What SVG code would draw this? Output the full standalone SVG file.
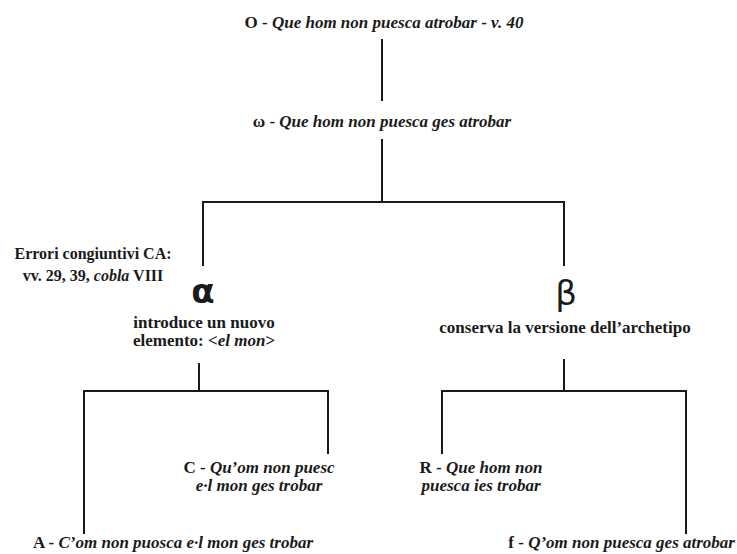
<svg xmlns="http://www.w3.org/2000/svg" width="737" height="554" viewBox="0 0 737 554">
<style>
.t{font-family:"Liberation Serif","Times New Roman",serif;font-size:17px;font-weight:bold;fill:#1a1a1a;text-anchor:middle}
.i{font-style:italic}
.s{font-size:16px}
.g{font-family:"DejaVu Sans",sans-serif;font-size:34px;fill:#1a1a1a;text-anchor:middle}
.e line{stroke:#1a1a1a;stroke-width:2;stroke-linecap:square}
</style>
<defs><clipPath id="cut"><rect x="0" y="240" width="200" height="44"/></clipPath></defs>
<rect width="737" height="554" fill="#fff"/>
<g class="e" id="connectors">
<line x1="382" y1="40" x2="382" y2="100"/>
<line x1="382" y1="140" x2="382" y2="202"/>
<line x1="203" y1="202" x2="564" y2="202"/>
<line x1="203" y1="202" x2="203" y2="265"/>
<line x1="564" y1="202" x2="564" y2="265"/>
<line x1="199" y1="364" x2="199" y2="391"/>
<line x1="84" y1="391" x2="328" y2="391"/>
<line x1="84" y1="391" x2="84" y2="533"/>
<line x1="328" y1="391" x2="328" y2="453"/>
<line x1="564" y1="360" x2="564" y2="391"/>
<line x1="442" y1="391" x2="686" y2="391"/>
<line x1="442" y1="391" x2="442" y2="453"/>
<line x1="686" y1="391" x2="686" y2="533"/>
</g>
<g id="O"><text class="t" x="384" y="28">O - <tspan class="i">Que hom non puesca atrobar</tspan> - <tspan class="i">v. 40</tspan></text></g>
<g id="omega"><text class="t" x="382" y="127">ω - <tspan class="i">Que hom non puesca ges atrobar</tspan></text></g>
<g id="errori" clip-path="url(#cut)"><text class="t s" x="93" y="259">Errori congiuntivi CA:</text><text class="t s" x="93" y="281">vv. 29, 39, <tspan class="i">cobla</tspan> VIII</text></g>
<g id="alpha"><text class="g" x="203" y="303" font-weight="bold">α</text>
<text class="t" x="204" y="328">introduce un nuovo</text>
<text class="t" x="204" y="346">elemento: &lt;<tspan class="i">el mon</tspan>&gt;</text></g>
<g id="beta"><text class="g" x="566" y="305">β</text>
<text class="t" x="565" y="333">conserva la versione dell’archetipo</text></g>
<g id="C"><text class="t" x="259" y="473">C - <tspan class="i">Qu’om non puesc</tspan></text><text class="t i" x="259" y="491">e·l mon ges trobar</text></g>
<g id="R"><text class="t" x="481" y="473">R - <tspan class="i">Que hom non</tspan></text><text class="t i" x="481" y="491">puesca ies trobar</text></g>
<g id="A"><text class="t" x="173" y="548">A - <tspan class="i">C’om non puosca e·l mon ges trobar</tspan></text></g>
<g id="f"><text class="t" x="735" y="548" style="text-anchor:end">f - <tspan class="i">Q’om non puesca ges atrobar</tspan></text></g>
</svg>
